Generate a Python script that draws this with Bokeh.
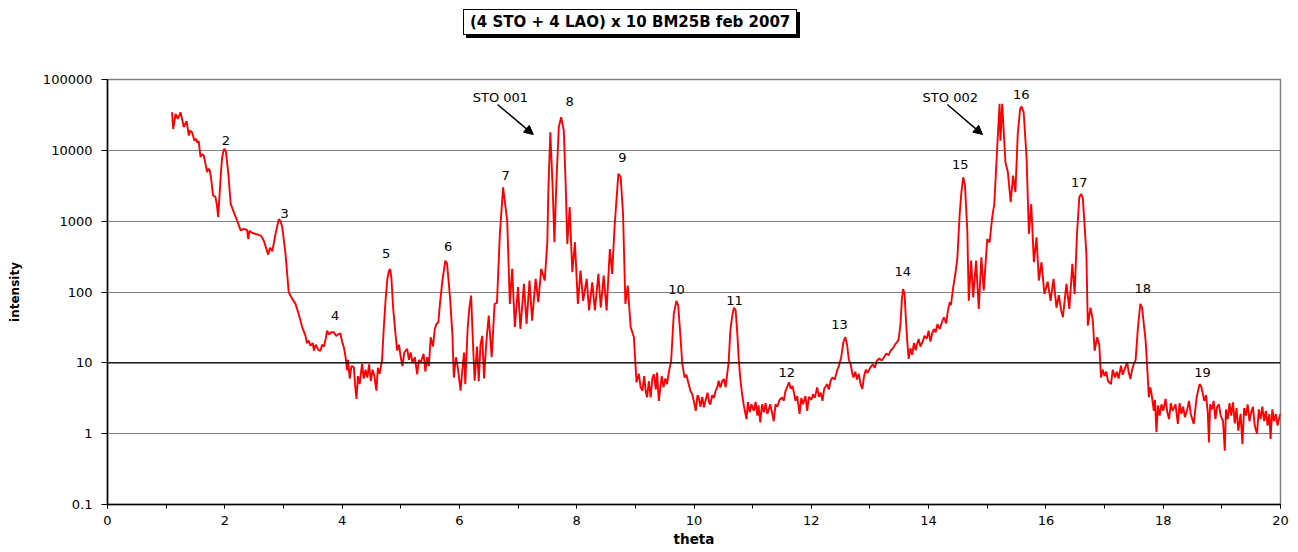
from bokeh.plotting import figure
from bokeh.models import (Range1d, FixedTicker, SingleIntervalTicker, CustomJSTickFormatter,
                          Span, Arrow, NormalHead, Div, ColumnDataSource)
from bokeh.layouts import column
from bokeh.core.properties import value
from bokeh.embed import file_html
from bokeh.resources import INLINE

# ---- data ----
theta = [
    1.10, 1.12, 1.16, 1.20, 1.245, 1.27, 1.30, 1.347, 1.387, 1.41, 1.44, 1.483, 1.51, 1.53, 1.555,
    1.586, 1.61, 1.64, 1.67, 1.70, 1.72, 1.745, 1.77, 1.80, 1.84, 1.865, 1.887, 1.91, 1.935, 1.955,
    1.98, 1.995, 2.02, 2.06, 2.10, 2.155, 2.21, 2.27, 2.32, 2.38, 2.40, 2.42, 2.47, 2.55, 2.62,
    2.665, 2.70, 2.74, 2.77, 2.81, 2.865, 2.92, 2.95, 2.98, 3.035, 3.09, 3.15, 3.205, 3.26, 3.32,
    3.376, 3.40, 3.43, 3.46, 3.50, 3.52, 3.55, 3.575, 3.60, 3.63, 3.66, 3.69, 3.72, 3.745, 3.78,
    3.81, 3.86, 3.90, 3.94, 3.97, 4.00, 4.03, 4.06, 4.087, 4.10, 4.13, 4.16, 4.20, 4.22, 4.245,
    4.27, 4.30, 4.34, 4.37, 4.40, 4.43, 4.46, 4.49, 4.52, 4.55, 4.585, 4.61, 4.64, 4.68, 4.71,
    4.74, 4.77, 4.80, 4.82, 4.84, 4.87, 4.91, 4.94, 4.97, 5.00, 5.03, 5.06, 5.11, 5.14, 5.17,
    5.20, 5.24, 5.28, 5.31, 5.34, 5.39, 5.42, 5.45, 5.48, 5.51, 5.55, 5.58, 5.61, 5.64, 5.67,
    5.71, 5.76, 5.79, 5.84, 5.88, 5.905, 5.94, 5.97, 6.02, 6.05, 6.08, 6.10, 6.14, 6.17, 6.20,
    6.23, 6.26, 6.30, 6.33, 6.36, 6.39, 6.42, 6.46, 6.50, 6.55, 6.60, 6.64, 6.69, 6.745, 6.815,
    6.86, 6.90, 6.945, 7.00, 7.04, 7.10, 7.145, 7.195, 7.24, 7.30, 7.345, 7.395, 7.455, 7.50, 7.515,
    7.55, 7.59, 7.62, 7.655, 7.695, 7.735, 7.78, 7.81, 7.84, 7.88, 7.925, 7.97, 8.02, 8.065, 8.11,
    8.17, 8.21, 8.265, 8.31, 8.37, 8.41, 8.46, 8.51, 8.565, 8.605, 8.645, 8.71, 8.75, 8.79, 8.83,
    8.87, 8.92, 8.975, 9.02, 9.06, 9.09, 9.12, 9.15, 9.18, 9.20, 9.23, 9.26, 9.29, 9.315, 9.35,
    9.37, 9.40, 9.42, 9.45, 9.48, 9.51, 9.54, 9.57, 9.61, 9.655, 9.70, 9.73, 9.76, 9.80, 9.84,
    9.87, 9.91, 9.94, 9.97, 10.00, 10.03, 10.06, 10.08, 10.11, 10.14, 10.17, 10.20, 10.23, 10.26, 10.28,
    10.31, 10.34, 10.37, 10.40, 10.42, 10.45, 10.48, 10.51, 10.54, 10.565, 10.59, 10.62, 10.65, 10.68, 10.71,
    10.74, 10.76, 10.79, 10.82, 10.85, 10.895, 10.92, 10.95, 10.98, 11.02, 11.05, 11.08, 11.10, 11.13, 11.16,
    11.19, 11.22, 11.25, 11.30, 11.33, 11.36, 11.39, 11.42, 11.46, 11.50, 11.53, 11.56, 11.59, 11.62, 11.65,
    11.68, 11.71, 11.73, 11.76, 11.80, 11.83, 11.86, 11.90, 11.93, 11.96, 12.00, 12.03, 12.06, 12.10, 12.13,
    12.16, 12.19, 12.22, 12.27, 12.30, 12.33, 12.36, 12.40, 12.44, 12.47, 12.51, 12.55, 12.58, 12.61, 12.64,
    12.67, 12.70, 12.72, 12.75, 12.78, 12.81, 12.84, 12.87, 12.90, 12.93, 12.96, 13.01, 13.05, 13.08, 13.12,
    13.16, 13.20, 13.24, 13.28, 13.32, 13.35, 13.39, 13.435, 13.47, 13.49, 13.52, 13.545, 13.565, 13.59, 13.61,
    13.635, 13.66, 13.69, 13.72, 13.75, 13.78, 13.80, 13.83, 13.86, 13.90, 13.93, 13.97, 14.00, 14.03, 14.06,
    14.09, 14.12, 14.15, 14.19, 14.23, 14.26, 14.30, 14.33, 14.36, 14.38, 14.42, 14.46, 14.49, 14.53, 14.56,
    14.59, 14.62, 14.66, 14.685, 14.725, 14.76, 14.81, 14.855, 14.90, 14.94, 15.00, 15.04, 15.085, 15.12, 15.17,
    15.21, 15.225, 15.255, 15.28, 15.31, 15.35, 15.40, 15.44, 15.48, 15.52, 15.56, 15.585, 15.62, 15.67, 15.71,
    15.75, 15.795, 15.84, 15.88, 15.925, 15.975, 16.03, 16.08, 16.13, 16.18, 16.22, 16.26, 16.29, 16.35, 16.40,
    16.45, 16.49, 16.53, 16.57, 16.60, 16.63, 16.69, 16.715, 16.76, 16.80, 16.83, 16.875, 16.91, 16.94, 16.97,
    17.00, 17.03, 17.06, 17.11, 17.14, 17.18, 17.21, 17.24, 17.28, 17.31, 17.35, 17.385, 17.41, 17.44, 17.47,
    17.50, 17.53, 17.57, 17.61, 17.64, 17.67, 17.70, 17.73, 17.755, 17.78, 17.80, 17.84, 17.86, 17.885, 17.91,
    17.94, 17.97, 18.00, 18.04, 18.07, 18.10, 18.13, 18.16, 18.21, 18.25, 18.28, 18.31, 18.34, 18.37, 18.41,
    18.44, 18.47, 18.52, 18.57, 18.60, 18.62, 18.65, 18.70, 18.73, 18.76, 18.78, 18.80, 18.83, 18.86, 18.89,
    18.92, 18.95, 18.98, 19.02, 19.05, 19.07, 19.10, 19.13, 19.16, 19.19, 19.22, 19.25, 19.28, 19.32, 19.35,
    19.38, 19.41, 19.44, 19.47, 19.50, 19.53, 19.56, 19.60, 19.63, 19.66, 19.69, 19.72, 19.75, 19.78, 19.81,
    19.83, 19.86, 19.89, 19.92, 19.95, 19.98, 20.00,
]
intensity = [
    34500, 20000, 32700, 27800, 34500, 28000, 21300, 25800, 16200, 19000, 18000, 13700, 14500, 12900, 13500,
    8000, 8800, 8500, 6500, 4900, 5500, 5200, 3800, 2300, 2200, 1700, 1140, 2300, 5000, 8000,
    10000, 10500, 9500, 4700, 1750, 1330, 1020, 740, 780, 750, 560, 730, 680, 650, 620,
    530, 430, 337, 420, 376, 660, 1070, 1000, 820, 345, 99, 80, 68, 49, 32,
    24, 19, 20.6, 17.5, 19, 14.9, 18, 16.5, 15, 14.8, 18, 17, 21.7, 28.5, 25,
    27, 27, 24, 25.5, 26, 20, 16.5, 12, 7.8, 11, 6, 9, 8.7, 5, 3.1,
    6.5, 5, 9.7, 6, 8, 6.2, 9.5, 5.5, 8, 6.5, 4.05, 8.5, 7, 10.7, 30,
    75, 150, 200, 210, 160, 60, 25.6, 14.9, 18, 12, 9, 14, 15.7, 11, 14,
    10, 12, 6.9, 11, 10, 13.4, 7.5, 12, 9, 23, 17, 30, 35.5, 37, 70,
    145, 277, 250, 84, 25.6, 6.2, 12, 9, 4.05, 8, 14, 5, 30, 60, 89,
    20, 5.6, 17, 5.5, 18, 24, 6, 20, 46.5, 12, 68, 70, 660, 3000, 1020,
    68, 213, 32, 117, 30, 130, 35.5, 145, 39.5, 153, 72, 213, 145, 530, 2450,
    18000, 3000, 505, 3750, 21300, 29300, 19000, 3750, 475, 1580, 190, 505, 68, 200, 75,
    153, 55, 137, 55, 180, 60, 170, 55, 405, 180, 820, 4650, 4200, 1260, 68,
    123, 32, 23, 5.3, 7, 4.5, 4.05, 6.5, 3.8, 3.26, 5.5, 3.26, 6, 6.9, 4.2,
    7.3, 2.9, 4, 6.5, 4.5, 6, 5, 7.3, 10.7, 49, 75, 65, 30, 9.7, 6.2,
    6.8, 5.0, 4, 3.6, 2.8, 2.1, 3.5, 3.26, 2.4, 3.3, 2.35, 3.0, 3.8, 2.7, 2.6,
    3.5, 3.2, 4.05, 4.6, 5.6, 4.5, 5.5, 5.9, 4.5, 6.9, 10, 28.5, 45, 60, 55,
    25, 12, 6, 3.6, 2.5, 1.6, 2.8, 2.0, 2.6, 2.1, 2.8, 1.8, 2.5, 1.44, 2.6,
    2.0, 2.7, 1.9, 2.6, 2.0, 1.5, 2.6, 2.4, 3.0, 3.26, 2.9, 4.0, 4.6, 5.3, 4.3,
    4.7, 3.6, 2.9, 3.4, 1.9, 3.2, 2.6, 3.4, 2.1, 3.3, 3.0, 3.6, 3.2, 4.5, 3.3,
    3.8, 2.9, 4.3, 5.0, 4.2, 5.6, 6.2, 5.8, 7.8, 9, 12, 20, 23, 18, 11,
    9.7, 7, 6.2, 7.5, 5.8, 7.0, 5.0, 4.3, 6.5, 8, 7.2, 8.7, 9.5, 8.5, 10.7,
    11.5, 10.8, 12, 13.5, 12.8, 14.8, 16, 18.5, 20, 21.7, 35, 80, 110, 95, 45,
    20.6, 11.4, 16, 13, 19, 15, 18, 21.7, 17, 20, 24, 22, 28.5, 20, 26,
    30, 27, 35, 30, 38, 44, 36, 55, 72, 65, 117, 190, 300, 1260, 2600,
    4170, 3200, 740, 75, 277, 84, 277, 57.6, 309, 105, 560, 500, 1140, 1750, 11000,
    45500, 13700, 45500, 19000, 6800, 5000, 1850, 4400, 2570, 17000, 38000, 41500, 35000, 8000, 660,
    1750, 263, 590, 145, 263, 94, 140, 75, 153, 60, 90, 55, 44, 130, 57.6,
    250, 94, 660, 2200, 2430, 2100, 345, 33.5, 60, 40, 14.8, 23, 18, 6.2, 8,
    6.5, 7.5, 5.5, 5.0, 8, 6.2, 7.5, 6, 9.1, 6.8, 8.5, 10.2, 7.5, 5.9, 8,
    9.7, 11, 32, 68, 60, 35, 20.6, 8, 3.26, 4.5, 3.7, 2.1, 3.0, 1.05, 2.5,
    1.8, 2.6, 2.1, 3.1, 2.0, 1.6, 2.7, 2.1, 2.6, 1.37, 2.7, 1.9, 2.4, 1.7, 2.2,
    2.9, 1.9, 1.37, 3.26, 4.2, 5.0, 4.6, 2.9, 3.5, 2.0, 0.75, 2.6, 2.2, 2.9, 1.6,
    2.4, 2.6, 1.8, 1.5, 0.575, 2.2, 1.6, 2.7, 1.8, 2.77, 1.4, 2.3, 1.1, 1.9, 0.71,
    2.3, 1.8, 2.6, 1.5, 2.0, 2.4, 1.3, 1.0, 2.2, 1.6, 2.4, 1.5, 2.1, 1.3, 1.9,
    0.84, 2.2, 1.5, 1.9, 1.3, 1.7, 1.9,
]

peak_labels = ["2", "3", "4", "5", "6", "7", "8", "9", "10", "11", "12", "13", "14", "15", "16", "17", "18", "19"]
peak_x = [2.02, 3.02, 3.88, 4.75, 5.81, 6.79, 7.88, 8.78, 9.70, 10.69, 11.58, 12.48, 13.56, 14.54, 15.58, 16.57, 17.65, 18.67]
peak_y = [13750, 1270, 46, 349, 438, 4400, 48900, 7900, 108, 75.5, 7.3, 34.6, 194, 6300, 61400, 3510, 112, 7.3]

sto_labels = ["STO 001", "STO 002"]
sto_x = [6.70, 14.37]
sto_y = [55700, 55700]
arrow_x0 = [6.65, 14.32]
arrow_y0 = [44400, 44400]
arrow_x1 = [7.26, 14.92]
arrow_y1 = [16700, 16700]

y_ticks = [0.1, 1, 10, 100, 1000, 10000, 100000]

FONT = "DejaVu Sans"

p = figure(width=1290, height=504, y_axis_type="log",
           x_range=Range1d(0, 20), y_range=Range1d(0.1, 100000),
           output_backend="svg", toolbar_location=None,
           min_border_left=107, min_border_right=10, min_border_top=33, min_border_bottom=46)
p.outline_line_color = "#808080"
p.outline_line_width = 1.5
p.background_fill_color = "white"
p.border_fill_color = "white"

p.xgrid.grid_line_color = None
p.ygrid.grid_line_color = "#808080"
p.ygrid.grid_line_width = 1

yt = FixedTicker(ticks=y_ticks, minor_ticks=[])
p.yaxis.ticker = yt
p.ygrid.ticker = yt
p.yaxis.formatter = CustomJSTickFormatter(code="return tick.toString();")
p.xaxis.ticker = SingleIntervalTicker(interval=2, num_minor_ticks=2)

for ax in (p.xaxis[0], p.yaxis[0]):
    ax.axis_line_color = "black"
    ax.axis_line_width = 1.5
    ax.major_tick_line_color = "black"
    ax.minor_tick_line_color = "black"
    ax.major_tick_in = 0
    ax.minor_tick_in = 0
    ax.major_label_text_font = FONT
    ax.major_label_text_font_size = "13px"
    ax.major_label_text_color = "black"
    ax.axis_label_text_font = FONT
    ax.axis_label_text_font_style = "bold"
    ax.axis_label_text_color = "black"

p.xaxis.major_tick_out = 4
p.xaxis.minor_tick_out = 4
p.xaxis.major_label_standoff = 7
p.xaxis.axis_label = "theta"
p.xaxis.axis_label_text_font_size = "13.5px"
p.xaxis.axis_label_standoff = 3

p.yaxis.major_tick_out = 6
p.yaxis.minor_tick_line_color = None
p.yaxis.major_label_standoff = 9
p.yaxis.axis_label = "intensity"
p.yaxis.axis_label_text_font_size = "12px"
p.yaxis.axis_label_standoff = 18

p.add_layout(Span(location=10, dimension="width", line_color="black", line_width=1.2))

p.line(theta, intensity, line_color="#FF0000", line_width=1.9)

lab_src = ColumnDataSource(dict(x=peak_x, y=peak_y, t=peak_labels))
p.text(x="x", y="y", text="t", source=lab_src, text_font=value(FONT), text_font_size="13px",
       text_align="center", text_baseline="middle", text_color="black")

sto_src = ColumnDataSource(dict(x=sto_x, y=sto_y, t=sto_labels))
p.text(x="x", y="y", text="t", source=sto_src, text_font=value(FONT), text_font_size="13px",
       text_align="center", text_baseline="middle", text_color="black")

for i in range(len(arrow_x0)):
    p.add_layout(Arrow(end=NormalHead(size=9, fill_color="black", line_color="black"),
                       x_start=arrow_x0[i], y_start=arrow_y0[i], x_end=arrow_x1[i], y_end=arrow_y1[i],
                       line_color="black", line_width=1.5))

title_html = (
    '<div style="margin-left:463px;margin-top:9px;display:inline-block;border:1px solid #000;'
    'box-shadow:3px 3px 0 #000;padding:2px 6px;font-family:\'DejaVu Sans\';font-weight:bold;'
    'font-size:15px;line-height:20px;background:#fff;color:#000;white-space:nowrap;">'
    '(4 STO + 4 LAO) x 10 BM25B feb 2007</div>'
)
title_div = Div(text=title_html, width=1290, height=46, margin=(0, 0, 0, 0))
p.margin = (0, 0, 0, 0)

layout = column(title_div, p, spacing=0)
open("out.html", "w").write(file_html(layout, INLINE))
